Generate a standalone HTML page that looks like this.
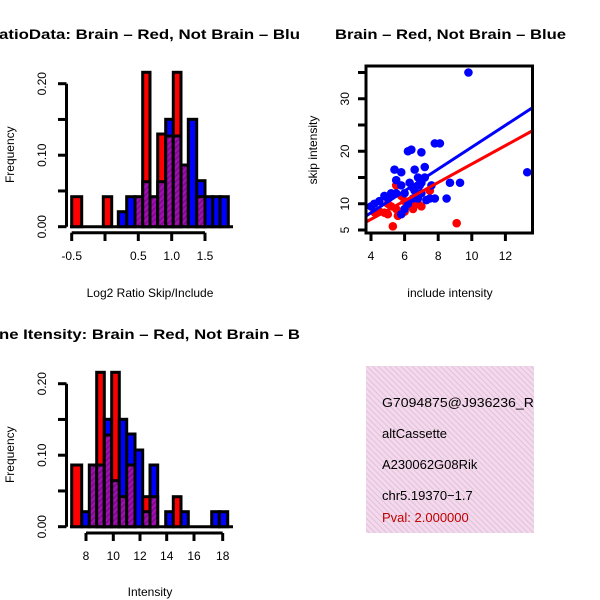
<!DOCTYPE html>
<html><head><meta charset="utf-8"><style>
html,body{margin:0;padding:0;background:#fff;}
svg{display:block;font-family:"Liberation Sans",sans-serif;}
</style></head><body>
<svg id="s" width="600" height="600" viewBox="0 0 600 600" xmlns="http://www.w3.org/2000/svg">
<defs>
<pattern id="hp" width="4" height="4" patternUnits="userSpaceOnUse" patternTransform="rotate(45)">
<rect width="4" height="4" fill="#a010b0"/><rect width="1.5" height="4" fill="#7a0a88"/></pattern>
<pattern id="pk" width="4" height="4" patternUnits="userSpaceOnUse" patternTransform="rotate(-45)">
<rect width="4" height="4" fill="#f6d6f0"/><rect width="1" height="4" fill="#d8c8cc"/></pattern>
</defs>
<g font-weight="bold" font-size="14">
<text x="-1" y="39" textLength="301" lengthAdjust="spacingAndGlyphs">atioData: Brain – Red, Not Brain – Blu</text>
<text x="335" y="39" textLength="231" lengthAdjust="spacingAndGlyphs">Brain – Red, Not Brain – Blue</text>
<text x="-1" y="339" textLength="301" lengthAdjust="spacingAndGlyphs">ne Itensity: Brain – Red, Not Brain – B</text>
</g>
<g id="g"></g>
<rect x="366" y="366" width="168" height="167" fill="url(#pk)"/>
<g font-size="13">
<text x="382" y="407" textLength="162" lengthAdjust="spacingAndGlyphs">G7094875@J936236_RC</text>
<text x="382" y="438">altCassette</text>
<text x="382" y="469">A230062G08Rik</text>
<text x="382" y="500">chr5.19370−1.7</text>
<text x="382" y="522" fill="#c00000">Pval: 2.000000</text>
</g>
<rect x="534" y="360" width="66" height="180" fill="#fff"/>
</svg>
<script>
var g=document.getElementById('g'),h='';
function R(x0,x1,y0,y1,f){h+='<rect x="'+x0+'" y="'+y0+'" width="'+(x1-x0)+'" height="'+(y1-y0)+'" fill="'+f+'" stroke="#000" stroke-width="3"/>';}
function L(a,b,c,d,w,col){h+='<line x1="'+a+'" y1="'+b+'" x2="'+c+'" y2="'+d+'" stroke="'+(col||'#000')+'" stroke-width="'+(w||3)+'"/>';}
function T(x,y,s,sz,rot,a,col){h+='<text x="'+x+'" y="'+y+'" font-size="'+sz+'" text-anchor="'+(a||'middle')+'"'+(rot?' transform="rotate(-90 '+x+' '+y+')"':'')+(col?' fill="'+col+'"':'')+'>'+s+'</text>';}
function hist(base,bins){
 L(70,base,233,base);
 bins.forEach(function(b){var c=b[2]=='r'?'#f00':b[2]=='b'?'#00f':'url(#hp)';R(b[0],b[1],b[3],base,c);if(b[4])R(b[0],b[1],b[4],base,'url(#hp)');});
 L(66.5,base-143,66.5,base);
 [0,0.05,0.1,0.15,0.2].forEach(function(v){var y=base-v*715;L(58,y,66.5,y);});
 T(46,base,'0.00',12,1);T(46,base-71.5,'0.10',12,1);T(46,base-143,'0.20',12,1);
 T(14,base-72,'Frequency',12,1);
}
hist(226.7,[[71.7,81.7,'r',196.7],[103.3,111.7,'r',196.7],[118.3,126.7,'b',211.7],[126.7,135,'b',196.7],[135,142.7,'p',196.7],
[142.7,150,'r',72.3,181.7],[150,157.7,'p',196.7],[157.7,165.7,'r',134,181.7],[165.7,173.3,'b',119.3,136],[173.3,181,'r',72.3,136],
[181,188.3,'p',165],[188.3,196.7,'b',119.3],[196.7,205,'b',180.7,196.7],[205,212.7,'b',196.7],[212.7,220,'b',196.7],[220,228.3,'b',196.7]]);
L(71.7,232.7,205,232.7);
[71.7,105,138.3,171.7,205].forEach(function(x){L(x,232.7,x,241);});
T(71.7,260,'-0.5',12);T(138.3,260,'0.5',12);T(171.7,260,'1.0',12);T(205,260,'1.5',12);
T(150,297,'Log2 Ratio Skip/Include',12);
hist(526.7,[[71.7,81.7,'r',465],[81.7,89.3,'b',511.7],[89.3,96.7,'p',465],[96.7,104.3,'r',372.3,465],[104.3,111.7,'b',419.3,435],
[111.7,119.3,'r',372.3,480.7],[119.3,126.7,'b',419.3,496.7],[126.7,135,'b',434,465],[135,142.7,'b',450],[142.7,150,'r',496.7,511.7],
[150,157.7,'b',465,496.7],[165.7,173.3,'b',511.7],[173.3,181,'r',496.7],[181,188.3,'b',511.7],[211.7,219.3,'b',511.7],[219.3,227.7,'b',511.7]]);
L(86,533,222.7,533);
[[86,8],[113.3,10],[140,12],[166.7,14],[194,16],[222.7,18]].forEach(function(t){L(t[0],533,t[0],541);T(t[0],560,t[1],12);});
T(150,596,'Intensity',12);
function px(v){return 371+(v-4)*16.8;} function py(v){return 230-(v-5)*5.25;}
var red=[[5.3,5.7],[9.1,6.3],[5.6,7.7],[5,8],[4.8,8.3],[4.5,8.5],[5.5,9],[6,8.5],[6.5,9],[7,9.5],[5.5,13.5],[7.5,12.5],[5,10],[6.6,9.8],[4.2,8.4],[6,10.5],[5.8,11.5],[5.2,9.5],[6.8,10]];
var blue=[[9.8,35],[13.3,16],[7.8,21.5],[8.1,21.5],[6.2,20],[6.4,20.3],[7,19.8],[5.4,16.5],[6.6,16.5],[7.2,17],[5.8,16],[8.7,14],[9.3,14],[7.6,13.5],[6.8,15],[7,14],[6.5,13],[6,12],[5.5,12],[5,11],[4.5,10.5],[4.2,10],[4,9.5],[7.5,11],[7.8,11],[8.5,11],[6.2,10],[5.8,8],[6,9],[6.5,11],[7,12],[5.2,12],[4.8,11.5],[6.8,11],[7.3,10.7],[6.9,13.5],[5.8,13.5],[6.3,14],[7.2,15],[6.6,12.5],[5.5,14.5]];
red.forEach(function(p){h+='<circle cx="'+px(p[0])+'" cy="'+py(p[1])+'" r="4.3" fill="#f00"/>';});
blue.forEach(function(p){h+='<circle cx="'+px(p[0])+'" cy="'+py(p[1])+'" r="4.3" fill="#00f"/>';});
L(366,216,532,108,3,'#00f');L(366,222,532,131,3,'#f00');
h+='<rect x="366" y="66" width="166.5" height="167" fill="none" stroke="#000" stroke-width="3"/>';
[5,10,15,20,25,30,35].forEach(function(v){L(358,py(v),366,py(v));});
[[5,'5'],[10,'10'],[20,'20'],[30,'30']].forEach(function(t){T(349,py(t[0]),t[1],12,1);});
T(317,150,'skip intensity',12,1);
[4,6,8,10,12].forEach(function(v){L(px(v),233,px(v),241);T(px(v),260,v,12);});
T(450,297,'include intensity',12);
g.innerHTML=h;
</script>
</body></html>
